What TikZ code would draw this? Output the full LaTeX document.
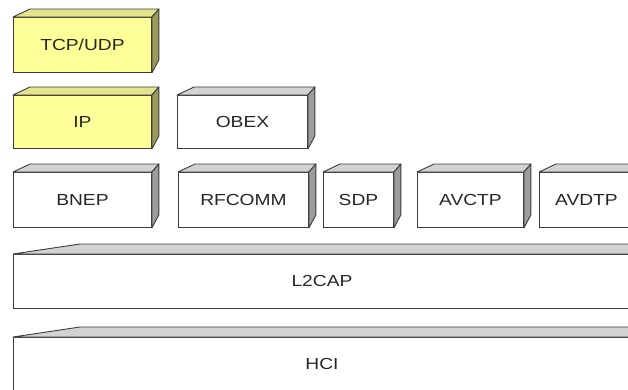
\documentclass[tikz,border=0pt]{standalone}
\usepackage{fontspec}
\setmainfont{Liberation Sans}
\usepackage{graphicx}
\usetikzlibrary{positioning}

\definecolor{boxline}{HTML}{3C3C3C}
\definecolor{ipfront}{HTML}{FFFF99}
\definecolor{iptop}{HTML}{E4E48C}
\definecolor{ipside}{HTML}{9A9A5A}
\definecolor{greytop}{HTML}{D2D2D2}
\definecolor{greyside}{HTML}{9C9C9C}

% 字形略宽
\newcommand{\widetext}[1]{\scalebox{1.2}[1]{#1}}

% 立体盒子的顶面与侧面
\newcommand{\boxfaces}[3]{%
	\filldraw[face, fill=#2] (#1.north west) -- ++(17,-8) -- ([shift={(7,-8)}]#1.north east) -- (#1.north east) -- cycle;
	\filldraw[face, fill=#3] (#1.north east) -- ++(7,-8) -- ([shift={(7,-13)}]#1.south east) -- (#1.south east) -- cycle;
}

\tikzset{
	face/.style={draw=boxline, line width=0.9pt, line join=round},
	proto/.style={draw=boxline, line width=0.9pt, fill=white, anchor=north west, inner sep=0pt,
		font=\fontsize{16}{18}\selectfont, text=black!85},
	ipbox/.style={proto, fill=ipfront}
}

\begin{document}
\begin{tikzpicture}[x=1pt, y=-1pt]
	\useasboundingbox (0,0) rectangle (628,389);
	
	% ---------- 上层：IP 协议 ----------
	\node[ipbox, minimum width=138pt, minimum height=55pt] (tcp) at (13,17) {\widetext{TCP/UDP}};
	\boxfaces{tcp}{iptop}{ipside}
	
	\node[ipbox, minimum width=138pt, minimum height=53pt] (ip) at (13,95) {\widetext{IP}};
	\boxfaces{ip}{iptop}{ipside}
	
	\node[proto, minimum width=130pt, minimum height=53pt] (obex) at (177,95) {\widetext{OBEX}};
	\boxfaces{obex}{greytop}{greyside}
	
	% ---------- 中层：L2CAP 之上的协议 ----------
	\node[proto, minimum width=138pt, minimum height=55pt] (bnep) at (13,172) {\widetext{BNEP}};
	\boxfaces{bnep}{greytop}{greyside}
	
	\node[proto, minimum width=130pt, minimum height=55pt] (rfcomm) at (178,172) {\widetext{RFCOMM}};
	\boxfaces{rfcomm}{greytop}{greyside}
	
	\node[proto, minimum width=70pt, minimum height=55pt] (sdp) at (323,172) {\widetext{SDP}};
	\boxfaces{sdp}{greytop}{greyside}
	
	\node[proto, minimum width=106pt, minimum height=55pt] (avctp) at (417,172) {\widetext{AVCTP}};
	\boxfaces{avctp}{greytop}{greyside}
	
	\node[proto, minimum width=94pt, minimum height=55pt] (avdtp) at (539,172) {\widetext{AVDTP}};
	\boxfaces{avdtp}{greytop}{greyside}
	
	% ---------- 底层：L2CAP 与 HCI ----------
	\node[proto, minimum width=617pt, minimum height=54pt] (l2cap) at (13,254) {\widetext{L2CAP}};
	\filldraw[face, fill=greytop] (l2cap.north west) -- ++(67,-10) -- ([shift={(20,-10)}]l2cap.north east) -- (l2cap.north east) -- cycle;
	
	\node[proto, minimum width=617pt, minimum height=53pt] (hci) at (13,337) {\widetext{HCI}};
	\filldraw[face, fill=greytop] (hci.north west) -- ++(67,-10) -- ([shift={(20,-10)}]hci.north east) -- (hci.north east) -- cycle;
\end{tikzpicture}
\end{document}
